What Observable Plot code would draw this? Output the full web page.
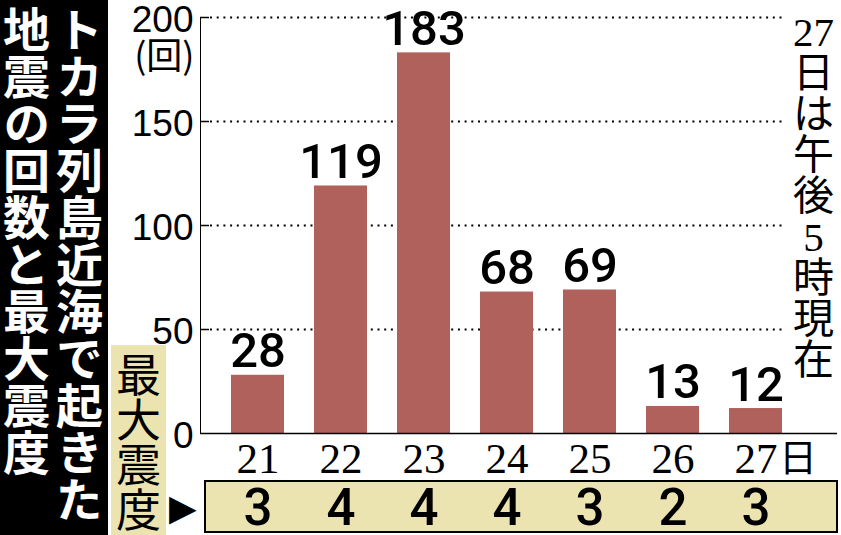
<!DOCTYPE html>
<html><head><meta charset="utf-8">
<script src="https://cdn.jsdelivr.net/npm/d3@7"></script>
<script src="https://cdn.jsdelivr.net/npm/@observablehq/plot@0.6"></script>
<style>
html,body{margin:0;padding:0;background:#fff;}
#wrap{position:relative;width:841px;height:535px;overflow:hidden;}
#chart{position:absolute;left:0;top:0;z-index:1;}
#panel{position:absolute;left:0;top:0;width:108px;height:535px;background:#000;z-index:2;}
#title{position:absolute;right:2px;top:6px;writing-mode:vertical-rl;font-family:"Noto Sans CJK JP",sans-serif;font-weight:700;font-size:47px;line-height:53px;color:#fff;white-space:nowrap;}
#sindo{position:absolute;left:111px;top:345px;width:55px;height:190px;background:#ebe3b0;z-index:2;}
#sindoText{writing-mode:vertical-rl;font-family:"Noto Sans CJK JP",sans-serif;font-size:45px;line-height:55px;padding-top:7px;color:#000;white-space:nowrap;}
#box{position:absolute;left:204px;top:480px;width:634px;height:53px;background:#ebe3b0;border:2px solid #000;box-sizing:border-box;z-index:0;}
#tri{position:absolute;left:169px;top:486px;font-family:"DejaVu Sans",sans-serif;font-size:36px;line-height:44px;color:#000;z-index:2;}
</style>
</head>
<body>
<div id="wrap">
  <div id="box"></div>
  <div id="chart"></div>
  <div id="panel"><div id="title"></div></div>
  <div id="sindo"><div id="sindoText"></div></div>
  <div id="tri"></div>
</div>
<script>
// ---- data ----
const days = ["21", "22", "23", "24", "25", "26", "27"];
const counts = [28, 119, 183, 68, 69, 13, 12];
const maxIntensity = [3, 4, 4, 4, 3, 2, 3];
const yTicks = [0, 50, 100, 150, 200];
const unitLabel = "(回)";
const dayUnit = "日";
const noteLines = ["27", "日", "は", "午", "後", "5", "時", "現", "在"];
const titleLines = ["トカラ列島近海で起きた", "地震の回数と最大震度"];
const intensityLabel = "最大震度";
const arrowGlyph = "▶";

const data = days.map((d, i) => ({day: d, count: counts[i], sindo: maxIntensity[i]}));
const gridTicks = yTicks.filter(d => d > 0);

document.getElementById("title").innerHTML = titleLines.join("<br>");
document.getElementById("sindoText").textContent = intensityLabel;
document.getElementById("tri").textContent = arrowGlyph;

const W = 841, H = 535, mL = 200, mR = 4, mT = 17, mB = 102;
const frameRight = W - mR;

const sans = "'Liberation Sans', Arial, Helvetica, sans-serif";
const medium = "Roboto, 'Liberation Sans', Arial, sans-serif";
const serif = "'Liberation Serif', 'Times New Roman', serif";

const plot = Plot.plot({
  width: W, height: H,
  marginLeft: mL, marginRight: mR, marginTop: mT, marginBottom: mB,
  style: {background: "transparent", overflow: "visible"},
  x: {domain: days, range: [229.3, 783.7], paddingInner: 0.36, paddingOuter: 0, axis: null},
  y: {domain: [0, 200], axis: "left", ticks: [], tickSize: 0, line: true, label: null},
  marks: [
    Plot.ruleY(gridTicks, {stroke: "#000", strokeWidth: 2, strokeDasharray: "2 4.7", insetLeft: 10, insetRight: frameRight - 784}),
    Plot.ruleY(gridTicks, {stroke: "#000", strokeWidth: 1.5, insetRight: frameRight - mL - 9}),
    Plot.barY(data, {x: "day", y: "count", fill: "#b1615c"}),
    Plot.ruleY([0], {stroke: "#000", strokeWidth: 1.5}),
    Plot.text(yTicks, {y: d => d, text: d => String(d), frameAnchor: "left", textAnchor: "end", dx: -7, dy: 3, fontSize: 37, fontFamily: sans, fill: "#000"}),
    Plot.text([unitLabel], {y: () => yTicks[yTicks.length - 1], text: d => d, frameAnchor: "left", textAnchor: "end", dx: -6, dy: 40, fontSize: 36, fontFamily: "'Noto Sans CJK JP', sans-serif", fill: "#000"}),
    Plot.text(data, {x: "day", y: "count", text: d => String(d.count), dy: -8, lineAnchor: "bottom", fontSize: 49, fontFamily: medium, fontWeight: 500, fill: "#000"}),
    Plot.text(days, {x: d => d, text: d => d, frameAnchor: "bottom", lineAnchor: "bottom", dy: 39, fontSize: 43, fontFamily: serif, fill: "#000"}),
    Plot.text([days[days.length - 1]], {x: d => d, text: () => dayUnit, frameAnchor: "bottom", lineAnchor: "bottom", textAnchor: "start", dx: 23, dy: 37, fontSize: 38, fontFamily: "'Noto Sans CJK JP', sans-serif", fill: "#000"}),
    Plot.text(data, {x: "day", text: d => String(d.sindo), frameAnchor: "bottom", lineAnchor: "bottom", dy: 91, fontSize: 51, fontFamily: medium, fontWeight: 500, fill: "#000"}),
    Plot.text([noteLines.join("\n")], {text: d => d, frameAnchor: "top-right", textAnchor: "middle", lineAnchor: "top", dx: -24, dy: -1, fontSize: 41, lineHeight: 1.0, fontFamily: "'Liberation Serif', 'Noto Sans CJK JP', serif", fill: "#000"})
  ]
});
document.getElementById("chart").appendChild(plot);
</script>
</body></html>
